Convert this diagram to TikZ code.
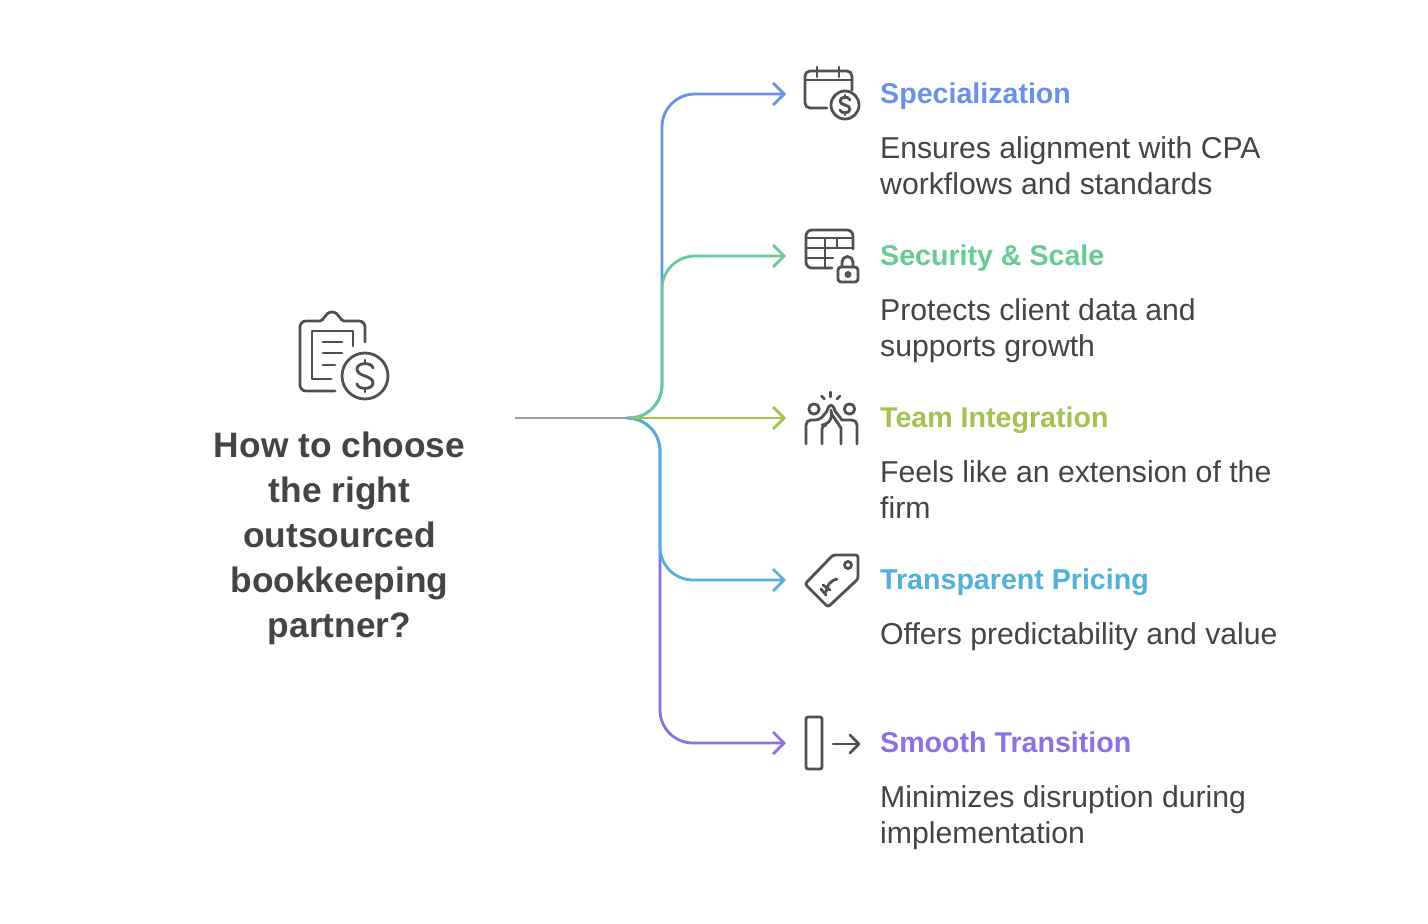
\documentclass[tikz,border=0pt]{standalone}
\usepackage{fontspec}
\setmainfont{Liberation Sans}
\usetikzlibrary{arrows.meta}
\definecolor{cblue}{HTML}{6A91EA}
\definecolor{cgreen}{HTML}{66CC96}
\definecolor{colive}{HTML}{A2C34E}
\definecolor{ccyan}{HTML}{50B0DE}
\definecolor{cpurple}{HTML}{8C6FEA}
\definecolor{ctext}{HTML}{444444}
\definecolor{cicon}{HTML}{505050}
\tikzset{
 conn/.style={line width=2.8pt,line cap=round,rounded corners=33pt,-{Straight Barb[length=11pt,width=22pt,line width=2.8pt]}},
 stem/.style={line width=2.8pt,color=gray!75},
 heading/.style={anchor=base west,inner sep=0pt,font=\fontsize{28.6}{32}\selectfont\bfseries},
 body/.style={anchor=base west,inner sep=0pt,text=ctext,font=\fontsize{30.2}{36}\selectfont},
 titletext/.style={inner sep=0pt,align=center,text=ctext,font=\fontsize{35.3}{45}\selectfont\bfseries},
 ico/.style={draw=cicon,line width=2.8pt,line cap=round,line join=round},
}
\begin{document}
\begin{tikzpicture}[x=1pt,y=-1pt]
\useasboundingbox[fill=white] (0,0) rectangle (1428,924);
% anchors
\coordinate (src) at (515,418);
\coordinate (hub) at (630,418);
\coordinate (e1) at (786,94);
\coordinate (e2) at (786,256);
\coordinate (e3) at (786,418);
\coordinate (e4) at (786,580);
\coordinate (e5) at (786,743);
% connectors
\draw[stem] (src) -- (hub);
\draw[conn,cblue] (hub) -- (662,418) -- (662,94) -- (e1);
\draw[conn,cgreen] (hub) -- (662,418) -- (662,256) -- (e2);
\draw[conn,cpurple] (hub) -- (660,418) -- (660,743) -- (e5);
\draw[conn,ccyan] (hub) -- (660,418) -- (660,580) -- (e4);
\draw[conn,colive,rounded corners=0pt] (hub) -- (e3);
% title
\node[titletext] (title) at (339.5,538.5) {How to choose\\the right\\outsourced\\bookkeeping\\partner?};
% labels
\node[heading,text=cblue] (h1) at (880,103.5) {Specialization};
\node[body] (b1a) at (880,158) {Ensures alignment with CPA};
\node[body] (b1b) at (880,194) {workflows and standards};
\node[heading,text=cgreen] (h2) at (880,265.5) {Security \& Scale};
\node[body] (b2a) at (880,320) {Protects client data and};
\node[body] (b2b) at (880,356) {supports growth};
\node[heading,text=colive] (h3) at (880,427.5) {Team Integration};
\node[body] (b3a) at (880,482) {Feels like an extension of the};
\node[body] (b3b) at (880,518) {firm};
\node[heading,text=ccyan] (h4) at (880,589.5) {Transparent Pricing};
\node[body] (b4a) at (880,644) {Offers predictability and value};
\node[heading,text=cpurple] (h5) at (880,752.5) {Smooth Transition};
\node[body] (b5a) at (880,807) {Minimizes disruption during};
\node[body] (b5b) at (880,843) {implementation};
% main icon: clipboard with coin
\draw[ico] (365,342) -- (365,327) arc (0:-90:6) -- (344,321) .. controls (340,321) and (339,312) .. (332,312) .. controls (325,312) and (324,321) .. (320,321) -- (306,321) arc (-90:-180:6) -- (300,385) arc (180:90:6) -- (335,391);
\draw[ico] (353,346) -- (353,331) -- (312,331) -- (312,379) -- (331,379);
\draw[ico] (323,342) -- (342,342) (323,353) -- (342,353) (323,365) -- (335,365);
\draw[ico] (365,376) circle (23);
\draw[ico] (373,368) .. controls (372,362) and (357,362) .. (357,369) .. controls (357,377) and (373,375) .. (373,383) .. controls (373,390) and (358,390) .. (357,384);
\draw[ico] (365,360) -- (365,364) (365,388) -- (365,392);
% calendar icon
\draw[ico] (852,90) -- (852,76) arc (0:-90:5) -- (810,71) arc (-90:-180:5) -- (805,103) arc (180:90:5) -- (827,108);
\draw[ico] (805,80) -- (852,80) (817,67) -- (817,77) (839,67) -- (839,77);
\draw[ico] (845,105) circle (14);
\draw[ico] (850,100) .. controls (849,96) and (840,96) .. (840,101) .. controls (840,106) and (850,104) .. (850,109) .. controls (850,114) and (841,114) .. (840,110);
\draw[ico] (845,95) -- (845,98) (845,112) -- (845,115);
% table with lock
\draw[ico] (853,249) -- (853,236) arc (0:-90:6) -- (812,230) arc (-90:-180:6) -- (806,262) arc (180:90:6) -- (832,268);
\draw[ico] (806,238) -- (853,238) (806,248) -- (853,248) (806,258) -- (833,258) (825,238) -- (825,268) (837,238) -- (837,248);
\draw[ico,rounded corners=3pt] (838,267) rectangle (858,282);
\draw[ico] (842,267) -- (842,262) arc (180:360:5.5) -- (853,267);
\draw[ico] (848,274.5) circle (2);
% team icon
\draw[ico] (814,409) circle (5.2) (849.5,409) circle (5.2);
\draw[ico,rounded corners=5pt] (806,444) -- (806,420) -- (820,420) -- (827,411);
\draw[ico] (827,411) .. controls (828,407) and (830,405) .. (831,405) .. controls (832,405) and (834,407) .. (835,411) -- (842,420);
\draw[ico,rounded corners=5pt] (842,420) -- (857,420) -- (857,444);
\draw[ico,rounded corners=4pt] (822,444) -- (822,425) -- (826,425) -- (832,418) -- (831,410);
\draw[ico] (841,444) -- (841,428) -- (831,413);
\draw[ico] (830.5,392) -- (830.5,397) (821.5,396) -- (824.5,399) (840,396) -- (837,399);
% tag icon
\draw[ico,rounded corners=2.5pt] (833,555) -- (858,555) -- (858,579) -- (828,607) -- (805,584) -- cycle;
\draw[ico] (848,565) circle (3.5);
\draw[ico] (837,579) .. controls (830,581) and (827,585) .. (826,592);
\draw[ico] (823,585) -- (830,590) (821,589) -- (826,595);
% transition icon
\draw[ico,rounded corners=2pt] (806,717) rectangle (822,769);
\draw[ico] (833,744) -- (859,744);
\draw[ico] (850,735) -- (859,744) -- (850,753);
\end{tikzpicture}
\end{document}
